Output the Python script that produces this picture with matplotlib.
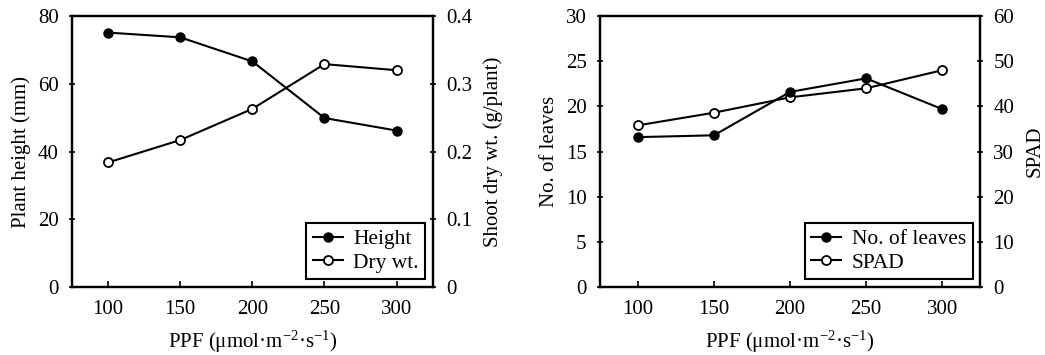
import matplotlib
matplotlib.use('Agg')
import matplotlib.pyplot as plt

plt.rcParams['font.family'] = ['Liberation Serif', 'DejaVu Serif']
plt.rcParams['font.size'] = 15
plt.rcParams['mathtext.fontset'] = 'custom'
plt.rcParams['mathtext.rm'] = 'Liberation Serif'
plt.rcParams['mathtext.it'] = 'Liberation Serif'

ppf = [100, 150, 200, 250, 300]
altura = [75.1, 73.7, 66.6, 49.9, 46.2]
massa_seca = [0.184, 0.217, 0.263, 0.329, 0.320]
folhas = [16.6, 16.8, 21.6, 23.1, 19.7]
spad = [35.8, 38.6, 42.0, 44.0, 48.0]

rotulo_x = 'PPF (\u03bcmol\u00b7m$^{\\mathrm{-2}}$\u00b7s$^{\\mathrm{-1}}$)'

fig = plt.figure(figsize=(10.45, 3.55), dpi=100)


def estilo(eixo, direcao_y='inout'):
    for lado in eixo.spines.values():
        lado.set_linewidth(1.6)
    eixo.tick_params(axis='x', direction='in', length=4, width=1.2, pad=9)
    eixo.tick_params(axis='y', direction=direcao_y, length=5, width=1.2, pad=7)


def painel(pos, y1, y2, rot1, rot2, lab1, lab2, lim1, lim2, ticks1, ticks2, fmt2):
    eixo1 = fig.add_axes(pos)
    eixo2 = eixo1.twinx()
    l1, = eixo1.plot(ppf, y1, color='black', lw=1.5, marker='o', ms=6.5,
                     mfc='black', mec='black')
    l2, = eixo2.plot(ppf, y2, color='black', lw=1.5, marker='o', ms=6.5,
                     mfc='white', mec='black', mew=1.3)
    eixo1.set_xlim(75, 325)
    eixo1.set_xticks(ppf)
    eixo1.set_ylim(*lim1)
    eixo1.set_yticks(ticks1)
    eixo2.set_ylim(*lim2)
    eixo2.set_yticks(ticks2)
    eixo2.set_yticklabels([fmt2(t) for t in ticks2])
    eixo1.set_xlabel(rotulo_x, labelpad=7)
    eixo1.set_ylabel(rot1, labelpad=5)
    eixo2.set_ylabel(rot2, labelpad=8)
    estilo(eixo1)
    estilo(eixo2)
    leg = eixo1.legend([l1, l2], [lab1, lab2], loc='lower right',
                       bbox_to_anchor=(0.98, 0.03), frameon=True, fancybox=False,
                       edgecolor='black', framealpha=1, handlelength=1.4,
                       borderpad=0.3, labelspacing=0.15, handletextpad=0.5,
                       borderaxespad=0.0, fontsize=15.5)
    leg.get_frame().set_linewidth(1.5)
    leg.set_zorder(5)
    eixo1.set_zorder(eixo2.get_zorder() + 1)
    eixo1.patch.set_visible(False)
    return eixo1, eixo2


painel([0.069, 0.191, 0.345, 0.764], altura, massa_seca,
       'Plant height (mm)', 'Shoot dry wt. (g/plant)', 'Height', 'Dry wt.',
       (0, 80), (0, 0.4), [0, 20, 40, 60, 80], [0, 0.1, 0.2, 0.3, 0.4],
       lambda t: '0' if t == 0 else f'{t:.1f}')

painel([0.574, 0.191, 0.364, 0.764], folhas, spad,
       'No. of leaves', 'SPAD', 'No. of leaves', 'SPAD',
       (0, 30), (0, 60), [0, 5, 10, 15, 20, 25, 30], [0, 10, 20, 30, 40, 50, 60],
       lambda t: f'{t:d}')

fig.savefig('out.png', dpi=100)
